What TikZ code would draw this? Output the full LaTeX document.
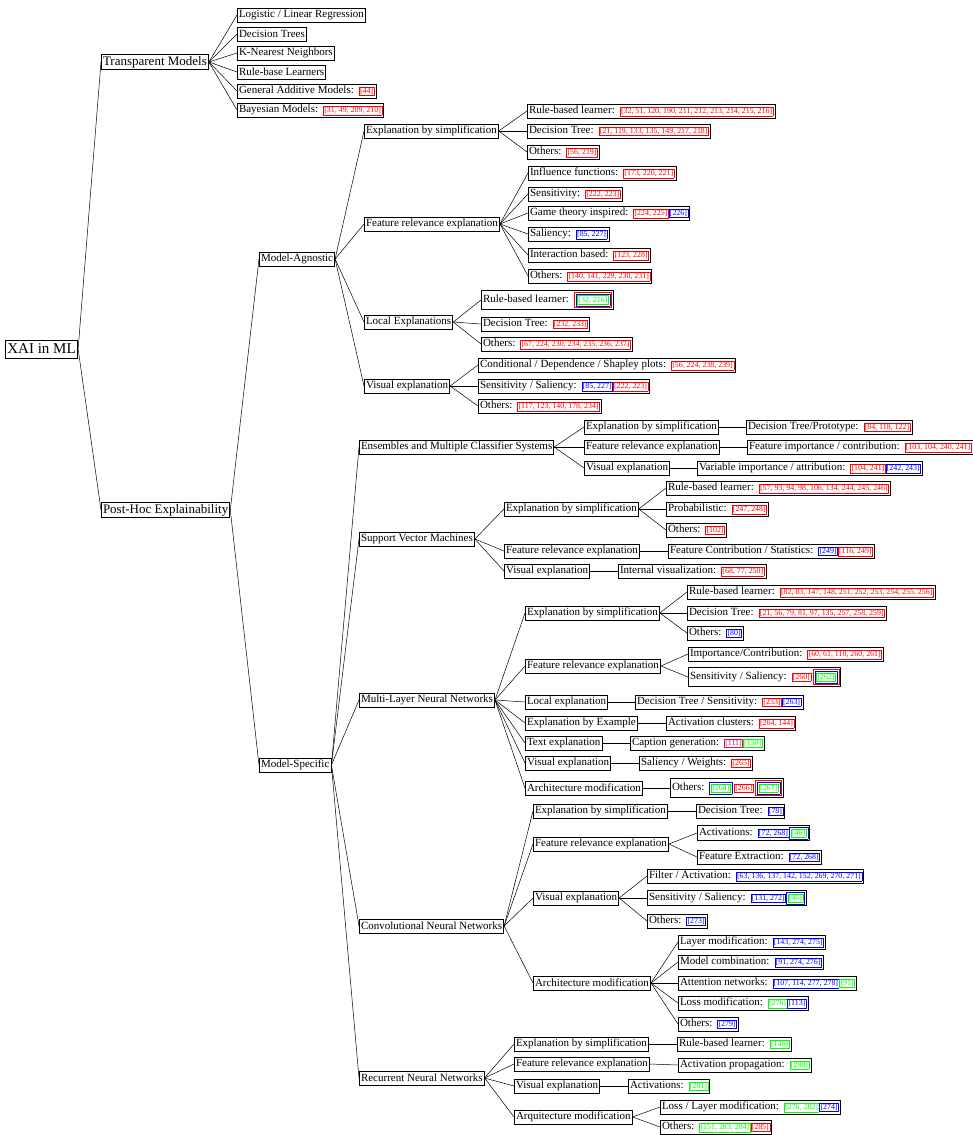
\documentclass[tikz,border=0pt]{standalone}
\usepackage{fontspec}
\setmainfont{Liberation Serif}
\usepackage{xcolor}
\definecolor{crimson}{rgb}{0.85,0.05,0.35}
\tikzstyle{rootbox}  = [rectangle, draw=black, line width=0.8pt, fill=white, inner sep=2pt,
                        minimum height=18pt, anchor=west, font=\fontsize{15}{17}\selectfont]
\tikzstyle{toplevel} = [rectangle, draw=black, line width=0.8pt, fill=white, inner sep=1.6pt,
                        minimum height=15pt, anchor=west, font=\fontsize{13}{15}\selectfont]
\tikzstyle{branch}   = [rectangle, draw=black, line width=0.8pt, fill=white, inner sep=1.6pt,
                        minimum height=14pt, anchor=west, font=\fontsize{11}{13}\selectfont]
\tikzstyle{leaf}     = [branch]
\tikzstyle{link}     = [black, line width=0.5pt]
% coloured reference boxes
\newcommand{\refgap}{\hspace{5pt}}
\newcommand{\cbox}[2]{{\setlength{\fboxsep}{0.7pt}\setlength{\fboxrule}{0.5pt}%
  \fcolorbox{#1}{white}{\textcolor{#1}{\fontsize{7.9}{8}\selectfont #2}}}}
\newcommand{\wrapbox}[2]{{\setlength{\fboxsep}{1.2pt}\setlength{\fboxrule}{0.5pt}%
  \fcolorbox{#1}{white}{#2}}}
\newcommand{\citeR}[1]{\cbox{red}{#1}}
\newcommand{\citeB}[1]{\cbox{blue}{#1}}
\newcommand{\citeG}[1]{\cbox{green}{#1}}
\newcommand{\citeC}[1]{\cbox{crimson}{#1}}

\begin{document}
\begin{tikzpicture}[x=1pt, y=-1pt]
    \useasboundingbox (0,0) rectangle (972,1135);
    % root and first level
    \node (xai) [rootbox] at (5,349) {XAI in ML};
    \node (tm) [toplevel] at (101,62) {Transparent Models};
    \node (ph) [toplevel] at (101,510) {Post-Hoc Explainability};

    % transparent models
    \node (tm1) [leaf] at (237,15) {Logistic / Linear Regression};
    \node (tm2) [leaf] at (237,34) {Decision Trees};
    \node (tm3) [leaf] at (237,53) {K-Nearest Neighbors};
    \node (tm4) [leaf] at (237,72) {Rule-base Learners};
    \node (tm5) [leaf] at (237,91) {General Additive Models:\refgap\citeR{[44]}};
    \node (tm6) [leaf] at (237,110) {Bayesian Models:\refgap\citeR{[31, 49, 209, 210]}};

    \node (ma) [branch] at (259,259) {Model-Agnostic};
    \node (ms) [branch] at (259,765) {Model-Specific};

    % model-agnostic
    \node (ma1) [branch] at (364,131) {Explanation by simplification};
    \node (ma2) [branch] at (364,224) {Feature relevance explanation};
    \node (ma3) [branch] at (364,322) {Local Explanations};
    \node (ma4) [branch] at (364,386) {Visual explanation};

    \node (ma11) [leaf] at (527,111) {Rule-based learner:\refgap\citeR{[32, 51, 120, 190, 211, 212, 213, 214, 215, 216]}};
    \node (ma12) [leaf] at (527,131) {Decision Tree:\refgap\citeR{[21, 119, 133, 135, 149, 217, 218]}};
    \node (ma13) [leaf] at (527,152) {Others:\refgap\citeR{[56, 219]}};

    \node (ma21) [leaf] at (528,173) {Influence functions:\refgap\citeR{[173, 220, 221]}};
    \node (ma22) [leaf] at (528,194) {Sensitivity:\refgap\citeR{[222, 223]}};
    \node (ma23) [leaf] at (528,213) {Game theory inspired:\refgap\citeR{[224, 225]}\citeB{[226]}};
    \node (ma24) [leaf] at (528,234) {Saliency:\refgap\citeB{[85, 227]}};
    \node (ma25) [leaf] at (528,255) {Interaction based:\refgap\citeR{[123, 228]}};
    \node (ma26) [leaf] at (528,276) {Others:\refgap\citeR{[140, 141, 229, 230, 231]}};

    \node (ma31) [leaf] at (481,300) {Rule-based learner:\refgap\wrapbox{red}{\wrapbox{blue}{\citeG{[32, 216]}}}};
    \node (ma32) [leaf] at (481,324) {Decision Tree:\refgap\citeR{[232, 233]}};
    \node (ma33) [leaf] at (481,344) {Others:\refgap\citeR{[67, 224, 230, 234, 235, 236, 237]}};

    \node (ma41) [leaf] at (478,365) {Conditional / Dependence / Shapley plots:\refgap\citeR{[56, 224, 238, 239]}};
    \node (ma42) [leaf] at (478,386) {Sensitivity / Saliency:\refgap\citeB{[85, 227]}\citeR{[222, 223]}};
    \node (ma43) [leaf] at (478,406) {Others:\refgap\citeR{[117, 123, 140, 178, 234]}};

    % model-specific
    \node (en) [branch] at (359,447) {Ensembles and Multiple Classifier Systems};
    \node (svm) [branch] at (359,539) {Support Vector Machines};
    \node (mlp) [branch] at (359,700) {Multi-Layer Neural Networks};
    \node (cnn) [branch] at (359,926) {Convolutional Neural Networks};
    \node (rnn) [branch] at (359,1078) {Recurrent Neural Networks};

    \node (en1) [branch] at (584,427) {Explanation by simplification};
    \node (en2) [branch] at (584,447) {Feature relevance explanation};
    \node (en3) [branch] at (584,468) {Visual explanation};
    \node (en11) [leaf] at (746,427) {Decision Tree/Prototype:\refgap\citeR{[84, 118, 122]}};
    \node (en21) [leaf] at (747,447) {Feature importance / contribution:\refgap\citeR{[103, 104, 240, 241]}};
    \node (en31) [leaf] at (697,468) {Variable importance / attribution:\refgap\citeR{[104, 241]}\citeB{[242, 243]}};

    \node (svm1) [branch] at (504,509) {Explanation by simplification};
    \node (svm2) [branch] at (504,551) {Feature relevance explanation};
    \node (svm3) [branch] at (504,571) {Visual explanation};
    \node (svm11) [leaf] at (666,488) {Rule-based learner:\refgap\citeR{[57, 93, 94, 98, 106, 134, 244, 245, 246]}};
    \node (svm12) [leaf] at (666,509) {Probabilistic:\refgap\citeR{[247, 248]}};
    \node (svm13) [leaf] at (666,530) {Others:\refgap\citeR{[102]}};
    \node (svm21) [leaf] at (668,551) {Feature Contribution / Statistics:\refgap\citeB{[249]}\citeR{[116, 249]}};
    \node (svm31) [leaf] at (618,571) {Internal visualization:\refgap\citeR{[68, 77, 250]}};

    \node (mlp1) [branch] at (525,613) {Explanation by simplification};
    \node (mlp2) [branch] at (525,666) {Feature relevance explanation};
    \node (mlp3) [branch] at (525,702) {Local explanation};
    \node (mlp4) [branch] at (525,723) {Explanation by Example};
    \node (mlp5) [branch] at (525,743) {Text explanation};
    \node (mlp6) [branch] at (525,763) {Visual explanation};
    \node (mlp7) [branch] at (525,788) {Architecture modification};
    \node (mlp11) [leaf] at (687,592) {Rule-based learner:\refgap\citeR{[82, 83, 147, 148, 251, 252, 253, 254, 255, 256]}};
    \node (mlp12) [leaf] at (687,613) {Decision Tree:\refgap\citeR{[21, 56, 79, 81, 97, 135, 257, 258, 259]}};
    \node (mlp13) [leaf] at (687,633) {Others:\refgap\citeB{[80]}};
    \node (mlp21) [leaf] at (688,654) {Importance/Contribution:\refgap\citeR{[60, 61, 110, 260, 261]}};
    \node (mlp22) [leaf] at (688,677) {Sensitivity / Saliency:\refgap\citeR{[260]}\,\wrapbox{red}{\wrapbox{blue}{\citeG{[262]}}}};
    \node (mlp31) [leaf] at (635,702) {Decision Tree / Sensitivity:\refgap\citeR{[233]}\citeB{[263]}};
    \node (mlp41) [leaf] at (666,723) {Activation clusters:\refgap\citeR{[264, 144]}};
    \node (mlp51) [leaf] at (630,743) {Caption generation:\refgap\citeC{[111]}\citeG{[150]}};
    \node (mlp61) [leaf] at (639,763) {Saliency / Weights:\refgap\citeR{[265]}};
    \node (mlp71) [leaf] at (670,788) {Others:\refgap\wrapbox{blue}{\citeG{[264]}}\,\citeR{[266]}\,\wrapbox{red}{\wrapbox{blue}{\citeG{[267]}}}};

    \node (cnn1) [branch] at (533,811) {Explanation by simplification};
    \node (cnn2) [branch] at (533,844) {Feature relevance explanation};
    \node (cnn3) [branch] at (533,898) {Visual explanation};
    \node (cnn4) [branch] at (533,983) {Architecture modification};
    \node (cnn11) [leaf] at (696,811) {Decision Tree:\refgap\citeB{[78]}};
    \node (cnn21) [leaf] at (697,833) {Activations:\refgap\citeB{[72, 268]}\wrapbox{blue}{\citeG{[46]}}};
    \node (cnn22) [leaf] at (697,857) {Feature Extraction:\refgap\citeB{[72, 268]}};
    \node (cnn31) [leaf] at (647,876) {Filter / Activation:\refgap\citeB{[63, 136, 137, 142, 152, 269, 270, 271]}};
    \node (cnn32) [leaf] at (647,898) {Sensitivity / Saliency:\refgap\citeB{[131, 272]}\wrapbox{blue}{\citeG{[46]}}};
    \node (cnn33) [leaf] at (647,921) {Others:\refgap\citeB{[273]}};
    \node (cnn41) [leaf] at (678,942) {Layer modification:\refgap\citeB{[143, 274, 275]}};
    \node (cnn42) [leaf] at (678,962) {Model combination:\refgap\citeB{[91, 274, 276]}};
    \node (cnn43) [leaf] at (678,983) {Attention networks:\refgap\citeB{[107, 114, 277, 278]}\citeG{[91]}};
    \node (cnn44) [leaf] at (678,1003) {Loss modification:\refgap\citeG{[276]}\citeB{[113]}};
    \node (cnn45) [leaf] at (678,1024) {Others:\refgap\citeB{[279]}};

    \node (rnn1) [branch] at (514,1044) {Explanation by simplification};
    \node (rnn2) [branch] at (514,1064) {Feature relevance explanation};
    \node (rnn3) [branch] at (514,1086) {Visual explanation};
    \node (rnn4) [branch] at (514,1117) {Arquitecture modification};
    \node (rnn11) [leaf] at (677,1044) {Rule-based learner:\refgap\citeG{[146]}};
    \node (rnn21) [leaf] at (678,1065) {Activation propagation:\refgap\citeG{[280]}};
    \node (rnn31) [leaf] at (628,1086) {Activations:\refgap\citeG{[281]}};
    \node (rnn41) [leaf] at (660,1107) {Loss / Layer modification:\refgap\citeG{[276, 282]}\citeB{[274]}};
    \node (rnn42) [leaf] at (660,1127) {Others:\refgap\citeG{[151, 283, 284]}\citeR{[285]}};

    % connectors
    \foreach \c in {tm, ph} \draw[link] (xai.east) -- (\c.west);
    \foreach \c in {tm1, tm2, tm3, tm4, tm5, tm6} \draw[link] (tm.east) -- (\c.west);
    \foreach \c in {ma, ms} \draw[link] (ph.east) -- (\c.west);
    \foreach \c in {ma1, ma2, ma3, ma4} \draw[link] (ma.east) -- (\c.west);
    \foreach \c in {ma11, ma12, ma13} \draw[link] (ma1.east) -- (\c.west);
    \foreach \c in {ma21, ma22, ma23, ma24, ma25, ma26} \draw[link] (ma2.east) -- (\c.west);
    \foreach \c in {ma31, ma32, ma33} \draw[link] (ma3.east) -- (\c.west);
    \foreach \c in {ma41, ma42, ma43} \draw[link] (ma4.east) -- (\c.west);
    \foreach \c in {en, svm, mlp, cnn, rnn} \draw[link] (ms.east) -- (\c.west);
    \foreach \c in {en1, en2, en3} \draw[link] (en.east) -- (\c.west);
    \draw[link] (en1.east) -- (en11.west);
    \draw[link] (en2.east) -- (en21.west);
    \draw[link] (en3.east) -- (en31.west);
    \foreach \c in {svm1, svm2, svm3} \draw[link] (svm.east) -- (\c.west);
    \foreach \c in {svm11, svm12, svm13} \draw[link] (svm1.east) -- (\c.west);
    \draw[link] (svm2.east) -- (svm21.west);
    \draw[link] (svm3.east) -- (svm31.west);
    \foreach \c in {mlp1, mlp2, mlp3, mlp4, mlp5, mlp6, mlp7} \draw[link] (mlp.east) -- (\c.west);
    \foreach \c in {mlp11, mlp12, mlp13} \draw[link] (mlp1.east) -- (\c.west);
    \foreach \c in {mlp21, mlp22} \draw[link] (mlp2.east) -- (\c.west);
    \draw[link] (mlp3.east) -- (mlp31.west);
    \draw[link] (mlp4.east) -- (mlp41.west);
    \draw[link] (mlp5.east) -- (mlp51.west);
    \draw[link] (mlp6.east) -- (mlp61.west);
    \draw[link] (mlp7.east) -- (mlp71.west);
    \foreach \c in {cnn1, cnn2, cnn3, cnn4} \draw[link] (cnn.east) -- (\c.west);
    \draw[link] (cnn1.east) -- (cnn11.west);
    \foreach \c in {cnn21, cnn22} \draw[link] (cnn2.east) -- (\c.west);
    \foreach \c in {cnn31, cnn32, cnn33} \draw[link] (cnn3.east) -- (\c.west);
    \foreach \c in {cnn41, cnn42, cnn43, cnn44, cnn45} \draw[link] (cnn4.east) -- (\c.west);
    \foreach \c in {rnn1, rnn2, rnn3, rnn4} \draw[link] (rnn.east) -- (\c.west);
    \draw[link] (rnn1.east) -- (rnn11.west);
    \draw[link] (rnn2.east) -- (rnn21.west);
    \draw[link] (rnn3.east) -- (rnn31.west);
    \foreach \c in {rnn41, rnn42} \draw[link] (rnn4.east) -- (\c.west);
\end{tikzpicture}
\end{document}
